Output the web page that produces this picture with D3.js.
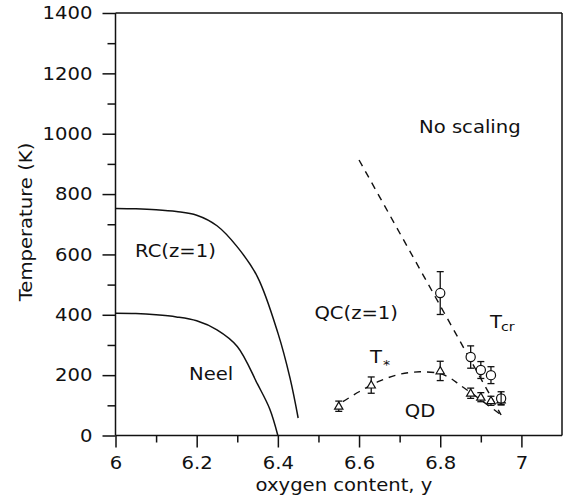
<!DOCTYPE html>
<html>
<head>
<meta charset="utf-8">
<script src="https://cdn.jsdelivr.net/npm/d3@7/dist/d3.min.js"></script>
<style>
  html, body { margin: 0; padding: 0; background: #fff; }
  svg { display: block; }
  text { font-family: "DejaVu Sans", Arial, sans-serif; fill: #111; }
</style>
</head>
<body>
<svg id="chart" width="566" height="502"></svg>
<script>
// ---------- data ----------
const xMajorTicks = [6.0, 6.2, 6.4, 6.6, 6.8, 7.0];
const xTickLabels = ["6", "6.2", "6.4", "6.6", "6.8", "7"];
const xMinorTicks = [6.1, 6.3, 6.5, 6.7, 6.9];
const yMajorTicks = [0, 200, 400, 600, 800, 1000, 1200, 1400];
const yTickLabels = ["0", "200", "400", "600", "800", "1000", "1200", "1400"];
const yMinorTicks = [100, 300, 500, 700, 900, 1100, 1300];

// RC(z=1) boundary (solid)
const rcX = [6.00, 6.05, 6.10, 6.15, 6.20, 6.25, 6.30, 6.35, 6.40, 6.43, 6.45];
const rcT = [752, 751, 748, 742, 730, 695, 625, 525, 340, 190, 58];
// Neel boundary (solid)
const neelX = [6.00, 6.05, 6.10, 6.15, 6.20, 6.25, 6.30, 6.35, 6.38, 6.40];
const neelT = [405, 404, 400, 393, 380, 350, 295, 170, 88, 0];
// Tcr dashed line
const tcrLineX = [6.60, 6.95];
const tcrLineT = [913, 68];
// T* dashed curve
const tStarX = [6.56, 6.60, 6.65, 6.70, 6.75, 6.80, 6.825, 6.85, 6.90, 6.95];
const tStarT = [112, 145, 180, 203, 211, 205, 190, 166, 118, 68];
// Tcr points (circles)
const circX = [6.80, 6.875, 6.90, 6.925, 6.95];
const circT = [472, 260, 217, 200, 123];
const circErr = [71, 37, 28, 28, 22];
// T* points (triangles)
const triX = [6.55, 6.63, 6.80, 6.875, 6.90, 6.925, 6.95];
const triT = [97, 167, 214, 140, 127, 115, 118];
const triErr = [17, 27, 32, 17, 15, 15, 15];

// ---------- drawing ----------
const svg = d3.select("#chart");
svg.append("rect").attr("width", 566).attr("height", 502).attr("fill", "#fff");

const x = d3.scaleLinear().domain([6.0, 7.1]).range([115.5, 562]);
const y = d3.scaleLinear().domain([0, 1400]).range([435.5, 13]);

const ink = "#111";
const SX = 1.09;   // horizontal stretch of the lettering
const FS = 18;
const g = svg.append("g");

// frame (top and right)
g.append("line").attr("x1", x(6.0)).attr("x2", x(7.1)).attr("y1", y(1400)).attr("y2", y(1400))
  .attr("stroke", ink).attr("stroke-width", 1.5);
g.append("line").attr("x1", x(7.1)).attr("x2", x(7.1)).attr("y1", y(1400)).attr("y2", y(0))
  .attr("stroke", ink).attr("stroke-width", 1.5);

// x axis
const xAxis = d3.axisBottom(x).tickValues(xMajorTicks).tickSize(12).tickPadding(9)
  .tickFormat((d, i) => xTickLabels[i]);
const xa = g.append("g").attr("transform", `translate(0,${y(0)})`).call(xAxis);
const xAxisMinor = d3.axisBottom(x).tickValues(xMinorTicks).tickSize(7).tickFormat("");
const xm = g.append("g").attr("transform", `translate(0,${y(0)})`).call(xAxisMinor);

// y axis
const yAxis = d3.axisLeft(y).tickValues(yMajorTicks).tickSize(13).tickPadding(10)
  .tickFormat((d, i) => yTickLabels[i]);
const ya = g.append("g").attr("transform", `translate(${x(6.0)},0)`).call(yAxis);
const yAxisMinor = d3.axisLeft(y).tickValues(yMinorTicks).tickSize(8).tickFormat("");
const ym = g.append("g").attr("transform", `translate(${x(6.0)},0)`).call(yAxisMinor);

[xa, xm, ya, ym].forEach(a => {
  a.selectAll(".domain").attr("stroke", ink).attr("stroke-width", 1.5);
  a.selectAll(".tick line").attr("stroke", ink).attr("stroke-width", 1.5);
  a.selectAll(".tick text").attr("font-size", FS).attr("font-family", "DejaVu Sans").attr("fill", ink);
});
xa.selectAll(".tick text").attr("transform", `scale(${SX},1)`);
ya.selectAll(".tick text").attr("transform", `scale(${SX},1)`)
  .attr("x", -23 / SX);
xa.select(".domain").attr("d", `M${x(6.0)},0H${x(7.1)}`);
ya.select(".domain").attr("d", `M0,${y(0)}V${y(1400)}`);
xm.select(".domain").remove();
ym.select(".domain").remove();

// text helper with horizontal stretch
function lab(tx, ty, s, fs, anchor, rot) {
  return g.append("text")
    .attr("transform", `translate(${tx},${ty})${rot ? " rotate(" + rot + ")" : ""} scale(${SX},1)`)
    .attr("text-anchor", anchor || "start")
    .attr("font-size", fs || FS).text(s);
}

// axis titles
lab(344, 491, "oxygen content, y", FS, "middle");
lab(32, 222, "Temperature (K)", FS, "middle", -90);

// curves
const lineGen = d3.line().x(d => x(d[0])).y(d => y(d[1]));
const smooth = d3.line().x(d => x(d[0])).y(d => y(d[1])).curve(d3.curveCatmullRom.alpha(0.5));

g.append("path").datum(rcX.map((v, i) => [v, rcT[i]])).attr("d", smooth)
  .attr("fill", "none").attr("stroke", ink).attr("stroke-width", 1.5);
g.append("path").datum(neelX.map((v, i) => [v, neelT[i]])).attr("d", smooth)
  .attr("fill", "none").attr("stroke", ink).attr("stroke-width", 1.5);
g.append("path").datum(tcrLineX.map((v, i) => [v, tcrLineT[i]])).attr("d", lineGen)
  .attr("fill", "none").attr("stroke", ink).attr("stroke-width", 1.4).attr("stroke-dasharray", "7,6");
g.append("path").datum(tStarX.map((v, i) => [v, tStarT[i]])).attr("d", smooth)
  .attr("fill", "none").attr("stroke", ink).attr("stroke-width", 1.4).attr("stroke-dasharray", "7,6");

// error bars
function errBars(xs, ts, es) {
  xs.forEach((v, i) => {
    const cx = x(v), y1 = y(ts[i] + es[i]), y2 = y(ts[i] - es[i]);
    g.append("line").attr("x1", cx).attr("x2", cx).attr("y1", y1).attr("y2", y2)
      .attr("stroke", ink).attr("stroke-width", 1.3);
    [y1, y2].forEach(yy => g.append("line").attr("x1", cx - 3.5).attr("x2", cx + 3.5)
      .attr("y1", yy).attr("y2", yy).attr("stroke", ink).attr("stroke-width", 1.3));
  });
}
errBars(triX, triT, triErr);
errBars(circX, circT, circErr);

// triangles
const tri = d3.symbol().type(d3.symbolTriangle).size(30);
triX.forEach((v, i) => {
  g.append("path").attr("d", tri).attr("transform", `translate(${x(v)},${y(triT[i]) + 0.5})`)
    .attr("fill", "#fff").attr("stroke", ink).attr("stroke-width", 1.2);
});
// circles
circX.forEach((v, i) => {
  g.append("circle").attr("cx", x(v)).attr("cy", y(circT[i])).attr("r", 4.6)
    .attr("fill", "#fff").attr("stroke", ink).attr("stroke-width", 1.2);
});
// vertical bar through the last circle (Φ look)
g.append("line").attr("x1", x(6.95)).attr("x2", x(6.95))
  .attr("y1", y(circT[4] + circErr[4])).attr("y2", y(circT[4] - circErr[4]))
  .attr("stroke", ink).attr("stroke-width", 1.2);

// region labels
lab(419, 133, "No scaling");
lab(135, 257, "RC(z=1)");
lab(398, 319, "QC(z=1)", FS, "end");
lab(189, 380, "Neel");
lab(420, 417, "QD", FS, "middle");
lab(370, 363, "T");
lab(383, 369, "*", 13);
lab(490, 328, "T");
lab(501, 331, "cr", 13);
</script>
</body>
</html>
